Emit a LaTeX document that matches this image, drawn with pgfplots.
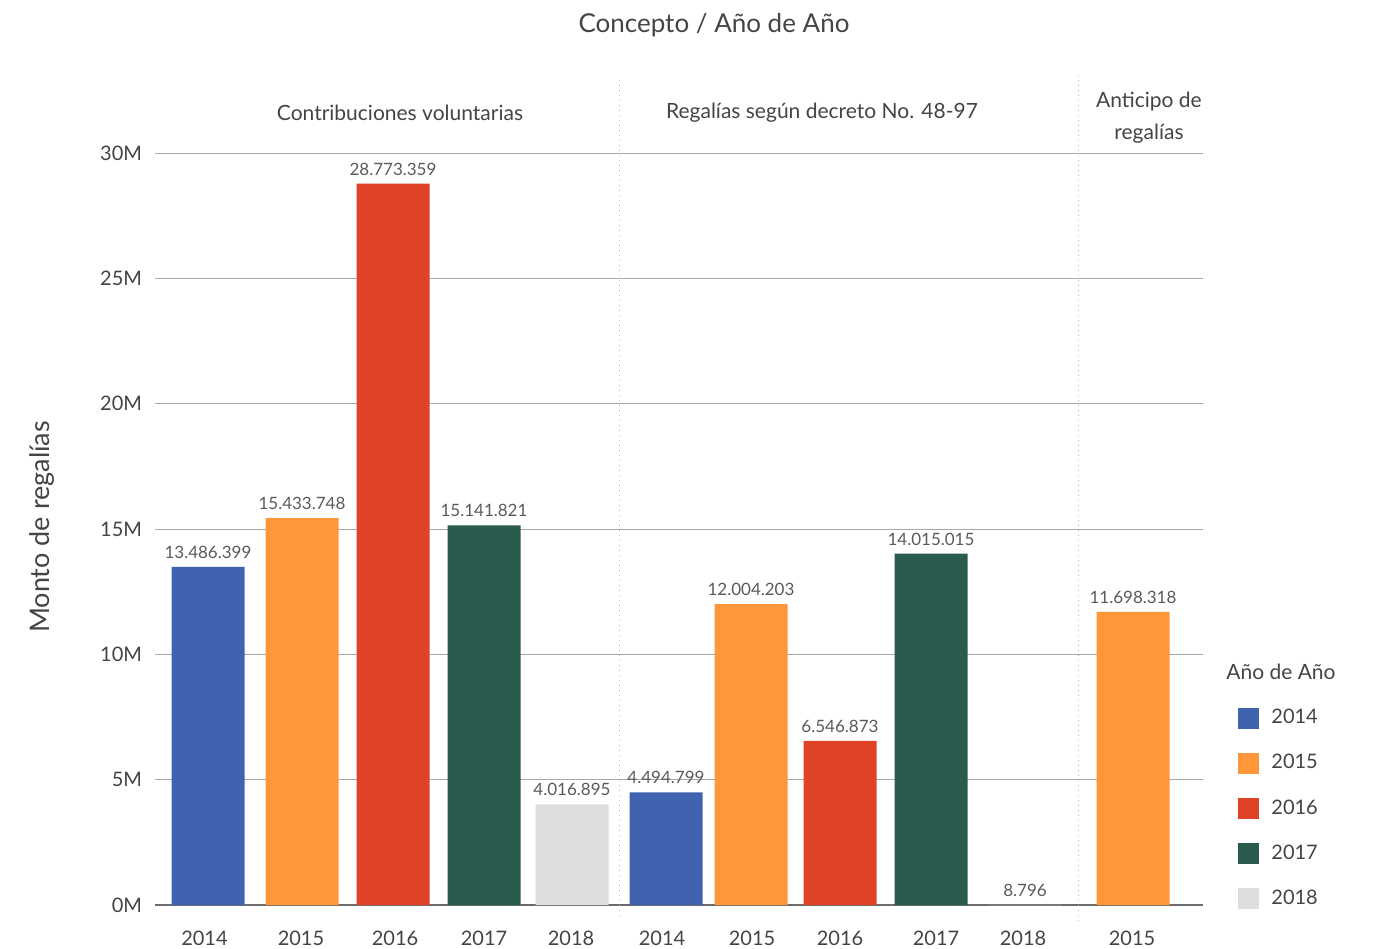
\documentclass[border=0pt]{standalone}
\usepackage{pgfplots}
\usepackage{pgfplotstable}
\pgfplotsset{compat=1.18}
\usepackage{fontspec}
\setmainfont{Lato}
\definecolor{c14}{HTML}{3F63AE}
\definecolor{c15}{HTML}{FF963A}
\definecolor{c16}{HTML}{DE4227}
\definecolor{c17}{HTML}{2B5A4F}
\definecolor{c18}{HTML}{DCDDDF}
\definecolor{txt}{HTML}{444444}
\definecolor{lbl}{HTML}{5A5A5A}
\definecolor{gridc}{HTML}{A8A8A8}

\pgfplotstableread{
x y lab
208 13.486399 13.486.399
666 4.494799 4.494.799
}\tA
\pgfplotstableread{
x y lab
302 15.433748 15.433.748
751 12.004203 12.004.203
1133 11.698318 11.698.318
}\tB
\pgfplotstableread{
x y lab
393 28.773359 28.773.359
840 6.546873 6.546.873
}\tC
\pgfplotstableread{
x y lab
484 15.141821 15.141.821
931 14.015015 14.015.015
}\tD
\pgfplotstableread{
x y lab
572 4.016895 4.016.895
1025 0.008796 8.796
}\tE

\begin{document}
\begin{tikzpicture}
\path[use as bounding box] (0,0) rectangle (686.5pt,474.5pt);
\begin{axis}[
  at={(77.5pt,22pt)}, anchor=south west,
  scale only axis, width=524pt, height=376pt,
  xmin=155, xmax=1203, ymin=0, ymax=30,
  clip=false,
  axis lines*=left,
  y axis line style={draw=none},
  x axis line style={draw=gray!85!black, line width=0.6pt},
  major tick length=0pt,
  ymajorgrids, grid style={gridc, line width=0.5pt},
  ytick={0,5,10,15,20,25,30},
  yticklabels={0M,5M,10M,15M,20M,25M,30M},
  yticklabel style={font=\fontsize{10}{12}\selectfont, text=txt, xshift=-3pt},
  xtick={204.5,301,395,484,571,662,752,840,936,1023,1132},
  xticklabels={2014,2015,2016,2017,2018,2014,2015,2016,2017,2018,2015},
  xticklabel style={font=\fontsize{10}{12}\selectfont, text=txt, yshift=-9.5pt},
  nodes near coords,
  point meta=explicit symbolic,
  every node near coord/.append style={font=\fontsize{8.5}{10}\selectfont, text=lbl, inner sep=4pt},
  legend style={at={(1.0277,0.2686)}, anchor=north west, draw=none, fill=none,
    font=\fontsize{10}{12}\selectfont, text=txt, row sep=11.8pt,
    nodes={inner sep=1pt}},
  legend cell align=left,
  legend image code/.code={\fill[#1,draw=none] (0pt,-5.25pt) rectangle (10.5pt,5.25pt);},
]
\addplot[ybar, bar width=73, bar shift=0pt, fill=c14, draw=none] table[x=x, y=y, meta=lab] {\tA};
\addlegendentry{\hspace{5pt}2014}
\addplot[ybar, bar width=73, bar shift=0pt, fill=c15, draw=none] table[x=x, y=y, meta=lab] {\tB};
\addlegendentry{\hspace{5pt}2015}
\addplot[ybar, bar width=73, bar shift=0pt, fill=c16, draw=none] table[x=x, y=y, meta=lab] {\tC};
\addlegendentry{\hspace{5pt}2016}
\addplot[ybar, bar width=73, bar shift=0pt, fill=c17, draw=none] table[x=x, y=y, meta=lab] {\tD};
\addlegendentry{\hspace{5pt}2017}
\addplot[ybar, bar width=73, bar shift=0pt, fill=c18, draw=none] table[x=x, y=y, meta=lab] {\tE};
\addlegendentry{\hspace{5pt}2018}

% separators
\draw[gridc!80, dotted, line width=0.5pt] (axis cs:619,32.9) -- (axis cs:619,-0.6);
\draw[gridc!80, dotted, line width=0.5pt] (axis cs:1078,33.1) -- (axis cs:1078,-0.8);

% headers
\node[font=\fontsize{10.5}{12}\selectfont, text=txt] at (axis cs:400,31.6) {Contribuciones voluntarias};
\node[font=\fontsize{10.5}{12}\selectfont, text=txt] at (axis cs:822,31.6) {Regalías según decreto No. 48-97};
\node[font=\fontsize{10.5}{16}\selectfont, text=txt, align=center] at (axis cs:1149,31.4) {Anticipo de\\regalías};

% title
\node[font=\fontsize{13}{15}\selectfont, text=txt] at (axis cs:714,35.1) {Concepto / Año de Año};

% y label
\node[font=\fontsize{13.5}{16}\selectfont, text=txt, rotate=90] at (axis cs:42,15.08) {Monto de regalías};

% legend title
\node[font=\fontsize{10.5}{12}\selectfont, text=txt, anchor=west, inner sep=0pt] at (axis cs:1226,9.295) {Año de Año};
\end{axis}
\end{tikzpicture}
\end{document}
